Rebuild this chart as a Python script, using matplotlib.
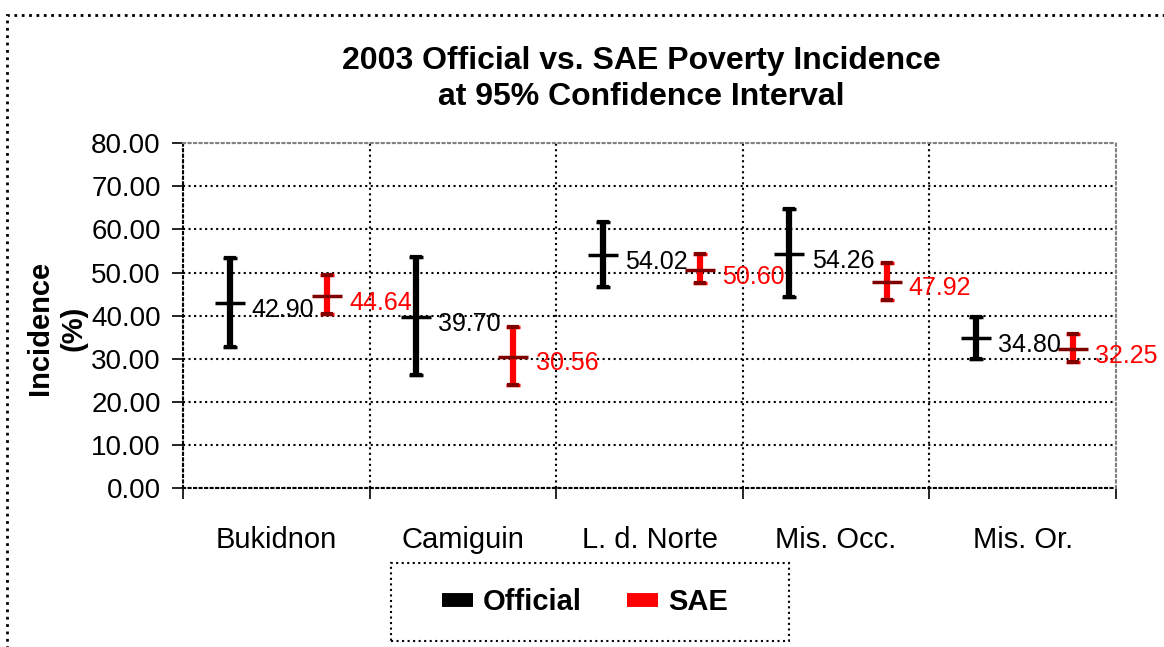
"""
2003 Official vs. SAE poverty incidence with 95% confidence intervals.
"""

import matplotlib
matplotlib.use("Agg")
import matplotlib.pyplot as plt
import numpy as np
from matplotlib.lines import Line2D
from matplotlib.patches import Rectangle


PROVINCES = ["Bukidnon", "Camiguin", "L. d. Norte", "Mis. Occ.", "Mis. Or."]

OFFICIAL = [42.90, 39.70, 54.02, 54.26, 34.80]
OFFICIAL_LOW = [32.8, 26.3, 46.6, 44.3, 29.9]
OFFICIAL_HIGH = [53.4, 53.5, 61.7, 64.7, 39.7]

SAE = [44.64, 30.56, 50.60, 47.92, 32.25]
SAE_LOW = [40.4, 24.0, 47.5, 43.7, 29.3]
SAE_HIGH = [49.5, 37.4, 54.4, 52.1, 35.7]

Y_TICKS = [0, 10, 20, 30, 40, 50, 60, 70, 80]


def draw_series(ax, x, values, low, high, color, cap_color, label_color):
    values = np.array(values)
    err = [values - np.array(low), np.array(high) - values]

    ax.errorbar(x, values, yerr=err, fmt="none", ecolor=color,
                elinewidth=4.5, capsize=5, capthick=2.5, zorder=3)
    # caps and mean dash in the darker colour
    ax.plot(x, low, linestyle="none", marker="_", markersize=9,
            markeredgewidth=3, color=cap_color, zorder=4)
    ax.plot(x, high, linestyle="none", marker="_", markersize=9,
            markeredgewidth=3, color=cap_color, zorder=4)
    ax.plot(x, values, linestyle="none", marker="_", markersize=21,
            markeredgewidth=2.5, color=cap_color, zorder=4)

    for xi, v in zip(x, values):
        ax.annotate(f"{v:.2f}", (xi, v), xytext=(16, -5),
                    textcoords="offset points", ha="left", va="center",
                    fontsize=18, color=label_color, zorder=5)


def plot_chart() -> None:
    plt.rcParams["font.family"] = ["Liberation Sans", "DejaVu Sans"]

    fig = plt.figure(figsize=(11.64, 6.47), dpi=100)
    ax = fig.add_axes([0.1572, 0.245, 0.8016, 0.534])

    pos = np.arange(len(PROVINCES))

    draw_series(ax, pos - 0.25, OFFICIAL, OFFICIAL_LOW, OFFICIAL_HIGH,
                "black", "black", "black")
    draw_series(ax, pos + 0.27, SAE, SAE_LOW, SAE_HIGH,
                "#ff0000", "#800000", "#ff0000")

    ax.set_xlim(-0.5, len(PROVINCES) - 0.5)
    ax.set_ylim(0, 80)

    ax.set_yticks(Y_TICKS)
    ax.set_yticklabels([f"{t:.2f}" for t in Y_TICKS], fontsize=20)
    ax.set_xticks(pos)
    ax.set_xticklabels(PROVINCES, fontsize=21)
    ax.set_xticks(np.arange(-0.5, len(PROVINCES), 1.0), minor=True)

    ax.tick_params(axis="x", which="major", length=0, pad=27)
    ax.tick_params(axis="x", which="minor", length=8, width=1.2,
                   direction="out", color="black")
    ax.tick_params(axis="y", length=8, width=1.2, direction="out", pad=8)

    ax.grid(axis="y", which="major", color="black", linestyle=":",
            linewidth=1.5)
    ax.grid(axis="x", which="minor", color="black", linestyle=":",
            linewidth=1.5)
    ax.set_axisbelow(True)

    for side in ["left", "bottom"]:
        ax.spines[side].set_linestyle(":")
        ax.spines[side].set_linewidth(1.5)
    for side in ["top", "right"]:
        ax.spines[side].set_linestyle(":")
        ax.spines[side].set_color("gray")
        ax.spines[side].set_linewidth(1.5)

    fig.text(641 / 1164, 1 - 79 / 647,
             "2003 Official vs. SAE Poverty Incidence\nat 95% Confidence Interval",
             ha="center", va="center", fontsize=23, fontweight="bold",
             linespacing=1.3)

    fig.text(57 / 1164, 1 - 328 / 647, "Incidence\n(%)", rotation=90,
             ha="center", va="center", fontsize=21, fontweight="bold",
             multialignment="center", linespacing=1.25)

    handles = [
        Line2D([], [], color="black", linewidth=10, solid_capstyle="butt"),
        Line2D([], [], color="#ff0000", linewidth=10, solid_capstyle="butt"),
    ]
    fig.legend(handles, ["Official", "SAE"], loc="center",
               bbox_to_anchor=(585 / 1164, 1 - 602 / 647), ncol=2,
               frameon=False, prop={"weight": "bold", "size": 21},
               handlelength=1.05, handletextpad=0.35,
               columnspacing=1.55, borderpad=0, borderaxespad=0)

    # legend box
    fig.patches.append(Rectangle((391 / 1164, 1 - 641 / 647),
                                 398 / 1164, 78 / 647,
                                 transform=fig.transFigure, fill=False,
                                 edgecolor="black", linestyle=":",
                                 linewidth=1.5))

    # outer chart frame
    fig.patches.append(Rectangle((7 / 1164, -0.1), 1.2, 1.1 - 15 / 647,
                                 transform=fig.transFigure, fill=False,
                                 edgecolor="black", linestyle=":",
                                 linewidth=2))

    fig.savefig("out.png", dpi=100)


if __name__ == "__main__":
    plot_chart()
